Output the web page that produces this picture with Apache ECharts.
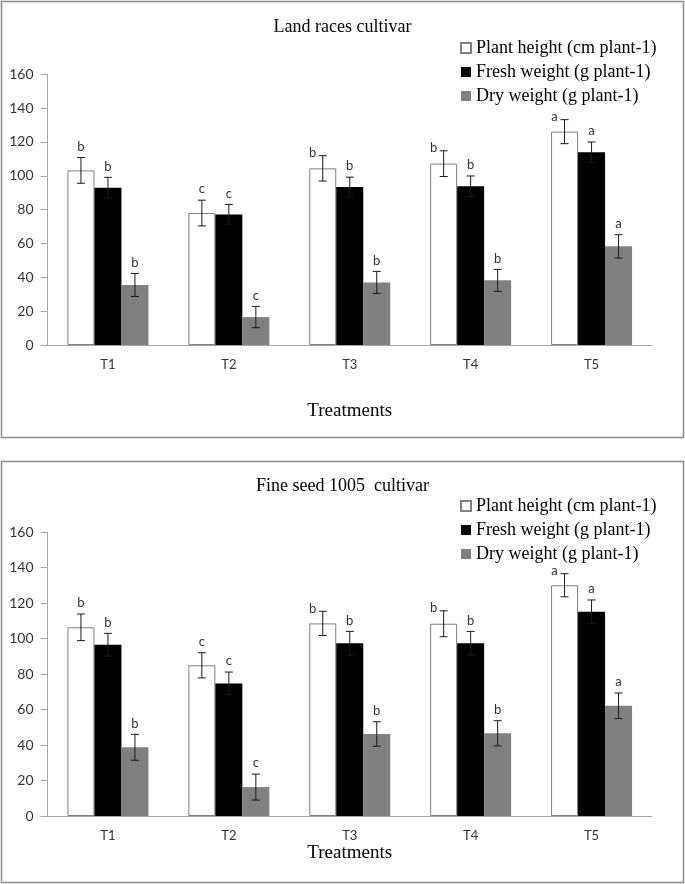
<!DOCTYPE html>
<html>
<head>
<meta charset="utf-8">
<script src="https://cdn.jsdelivr.net/npm/echarts@6/dist/echarts.min.js"></script>
<style>
  html, body { margin: 0; padding: 0; background: #fff; }
  #main { width: 685px; height: 884px; }
</style>
</head>
<body>
<div id="main"></div>
<script>
// 处理 T1..T5
const categories = ["T1", "T2", "T3", "T4", "T5"];
const seriesNames = ["Plant height (cm plant-1)", "Fresh weight (g plant-1)", "Dry weight (g plant-1)"];
const yTicks = [0, 20, 40, 60, 80, 100, 120, 140, 160];

// Land races cultivar
const landHeight = [103.2, 78.0, 104.4, 107.2, 126.1];
const landHeightErr = [7.6, 7.6, 7.5, 7.6, 7.1];
const landFresh = [93.0, 77.2, 93.4, 93.8, 113.9];
const landFreshErr = [6.1, 5.8, 5.8, 6.1, 6.1];
const landDry = [35.5, 16.5, 37.0, 38.2, 58.3];
const landDryErr = [6.8, 6.3, 6.5, 6.5, 6.9];
const landHeightSig = ["b", "c", "b", "b", "a"];
const landFreshSig = ["b", "c", "b", "b", "a"];
const landDrySig = ["b", "c", "b", "b", "a"];

// Fine seed 1005 cultivar
const fineHeight = [106.3, 84.9, 108.5, 108.3, 130.0];
const fineHeightErr = [7.5, 7.1, 6.8, 7.3, 6.5];
const fineFresh = [96.5, 74.7, 97.3, 97.3, 115.1];
const fineFreshErr = [6.4, 6.4, 6.7, 6.7, 6.6];
const fineDry = [38.7, 16.3, 46.2, 46.6, 62.1];
const fineDryErr = [7.3, 7.3, 6.9, 7.1, 7.2];
const fineHeightSig = ["b", "c", "b", "b", "a"];
const fineFreshSig = ["b", "c", "b", "b", "a"];
const fineDrySig = ["b", "c", "b", "b", "a"];

const BAR_W = 27;
const serif = "Liberation Serif";
const sans = "Lato";
const barStyles = [
  { color: "#fff", borderColor: "#7f7f7f", borderWidth: 1 },
  { color: "#000" },
  { color: "#808080" }
];

function barSeries(slot, vals, axis) {
  return {
    name: seriesNames[slot],
    type: "bar",
    xAxisIndex: axis,
    yAxisIndex: axis,
    barWidth: BAR_W,
    barGap: "0%",
    itemStyle: barStyles[slot],
    emphasis: { disabled: true },
    data: vals
  };
}

// 误差线 + 字母
function errSeries(slot, vals, errs, sigs, axis) {
  return {
    type: "custom",
    xAxisIndex: axis,
    yAxisIndex: axis,
    silent: true,
    z: 5,
    data: vals.map((v, i) => [i, v, errs[i]]),
    renderItem: function(params, api) {
      let i = api.value(0), v = api.value(1), e = api.value(2);
      let top = api.coord([i, v + e]);
      let bot = api.coord([i, v - e]);
      let x = top[0] + (slot - 1) * BAR_W;
      let shifted = slot === 0 && i >= 2; //这几个字母在左边
      let lineStyle = { stroke: "#1a1a1a", lineWidth: 1 };
      return {
        type: "group",
        children: [
          { type: "line", shape: { x1: x, y1: top[1], x2: x, y2: bot[1] }, style: lineStyle },
          { type: "line", shape: { x1: x - 4, y1: top[1], x2: x + 4, y2: top[1] }, style: lineStyle },
          { type: "line", shape: { x1: x - 4, y1: bot[1], x2: x + 4, y2: bot[1] }, style: lineStyle },
          {
            type: "text",
            x: shifted ? x - 10 : x,
            y: shifted ? top[1] - 3 : top[1] - 11,
            style: {
              text: sigs[params.dataIndex],
              font: "13px " + sans,
              fill: "#333",
              align: "center",
              verticalAlign: "middle",
              textAlign: "center",
              textVerticalAlign: "middle"
            }
          }
        ]
      };
    }
  };
}

function xAxis(grid, gap) {
  return {
    type: "category",
    gridIndex: grid,
    data: categories,
    axisTick: { show: false },
    axisLine: { lineStyle: { color: "#a6a6a6" } },
    axisLabel: { color: "#333", fontFamily: sans, fontSize: 13, margin: 13 },
    name: "Treatments",
    nameLocation: "middle",
    nameGap: gap,
    nameTextStyle: { color: "#000", fontFamily: serif, fontSize: 19 }
  };
}

function yAxis(grid) {
  return {
    type: "value",
    gridIndex: grid,
    min: yTicks[0],
    max: yTicks[yTicks.length - 1],
    interval: 20,
    splitLine: { show: false },
    axisLine: { show: true, lineStyle: { color: "#a6a6a6" } },
    axisTick: { show: true, length: 7, lineStyle: { color: "#a6a6a6" } },
    axisLabel: { color: "#333", fontFamily: sans, fontSize: 14, margin: 14 }
  };
}

function legend(top) {
  return {
    data: seriesNames,
    orient: "vertical",
    left: 455,
    top: top,
    itemWidth: 10,
    itemHeight: 10,
    itemGap: 6,
    icon: "rect",
    selectedMode: false,
    textStyle: { color: "#000", fontFamily: serif, fontSize: 18, lineHeight: 18 }
  };
}

let myChart = echarts.init(document.getElementById("main"));

let option = {
  animation: false,
  backgroundColor: "#fff",
  title: [
    {
      text: "Land races cultivar",
      left: "center",
      top: 18,
      padding: 0,
      textStyle: { color: "#000", fontFamily: serif, fontSize: 18, fontWeight: "normal" }
    },
    {
      text: "Fine seed 1005  cultivar",
      left: "center",
      top: 477,
      padding: 0,
      textStyle: { color: "#000", fontFamily: serif, fontSize: 18, fontWeight: "normal" }
    }
  ],
  legend: [legend(34), legend(492)],
  grid: [
    { left: 47.5, right: 33, top: 74.3, bottom: 539 },
    { left: 47.5, right: 33, top: 532, bottom: 68 }
  ],
  xAxis: [xAxis(0, 57), xAxis(1, 28)],
  yAxis: [yAxis(0), yAxis(1)],
  series: [
    barSeries(0, landHeight, 0),
    barSeries(1, landFresh, 0),
    barSeries(2, landDry, 0),
    errSeries(0, landHeight, landHeightErr, landHeightSig, 0),
    errSeries(1, landFresh, landFreshErr, landFreshSig, 0),
    errSeries(2, landDry, landDryErr, landDrySig, 0),
    barSeries(0, fineHeight, 1),
    barSeries(1, fineFresh, 1),
    barSeries(2, fineDry, 1),
    errSeries(0, fineHeight, fineHeightErr, fineHeightSig, 1),
    errSeries(1, fineFresh, fineFreshErr, fineFreshSig, 1),
    errSeries(2, fineDry, fineDryErr, fineDrySig, 1)
  ],
  graphic: [
    //外框
    { type: "rect", shape: { x: 1.5, y: 1.5, width: 682, height: 436 }, style: { fill: "none", stroke: "#8c8c8c", lineWidth: 1.5 } },
    { type: "rect", shape: { x: 1.5, y: 461.5, width: 682, height: 421 }, style: { fill: "none", stroke: "#8c8c8c", lineWidth: 1.5 } }
  ]
};

myChart.setOption(option);
</script>
</body>
</html>
